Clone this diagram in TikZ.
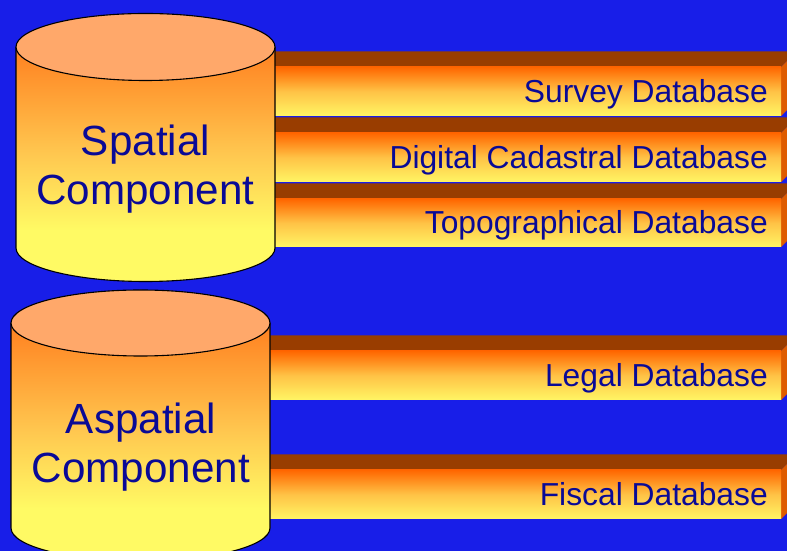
\documentclass[tikz,border=0pt]{standalone}
\usepackage{fontspec}
\setmainfont{Liberation Sans}
\definecolor{bgblue}{RGB}{24,30,232}
\definecolor{txtblue}{RGB}{10,10,150}
\definecolor{cyltopc}{RGB}{255,168,106}
\definecolor{cylO}{RGB}{255,128,32}
\definecolor{cylM}{RGB}{255,200,80}
\definecolor{cylY}{RGB}{255,250,100}
\definecolor{barTopC}{RGB}{153,61,0}
\definecolor{barSideC}{RGB}{222,92,0}
\definecolor{barO}{RGB}{255,102,0}
\definecolor{barM}{RGB}{255,195,70}
\definecolor{barY}{RGB}{255,245,100}
\pgfdeclareverticalshading{cylsh}{100bp}{color(0bp)=(cylY); color(25bp)=(cylY); color(36bp)=(cylY); color(52bp)=(cylM); color(75bp)=(cylO); color(100bp)=(cylO)}
\tikzset{
  cylbody/.style={shading=cylsh},
  cyledge/.style={draw=black, line width=1.1pt},
  cyltop/.style={fill=cyltopc, draw=black, line width=1.1pt},
  bartop/.style={fill=barTopC},
  barside/.style={fill=barSideC},
  barfront/.style={top color=barO, bottom color=barY, middle color=barM},
  dblabel/.style={anchor=base east, inner sep=0pt, text=txtblue, font=\fontsize{31.8}{36}\selectfont},
  cyllabel/.style={anchor=center, inner sep=0pt, align=center, text=txtblue, font=\fontsize{42.2}{49.5}\selectfont}
}
\newcommand{\dbbar}[4]{%
  \fill[bartop] (200,#2) -- (781,#2) -- (797,#2+15.5) -- (216,#2+15.5) -- cycle;
  \fill[barside] (781,#2) -- (797,#2+15.5) -- (797,#3+15.5) -- (781,#3) -- cycle;
  \shade[barfront] (200,#3) rectangle (781,#2);
  \node[dblabel] (#1) at (768,#3+13) {#4};
}
\newcommand{\dbcyl}[5]{%
  \shade[cylbody] (#1-#2,#4) -- (#1-#2,#5) arc[start angle=180, end angle=360, x radius=#2, y radius=#3] -- (#1+#2,#4) -- cycle;
  \draw[cyledge] (#1-#2,#4) -- (#1-#2,#5) arc[start angle=180, end angle=360, x radius=#2, y radius=#3] -- (#1+#2,#4);
  \filldraw[cyltop] (#1,#4) ellipse [x radius=#2, y radius=#3];
}
\begin{document}
\begin{tikzpicture}[x=1pt,y=1pt]
\useasboundingbox (0,0) rectangle (787,551);
\fill[bgblue] (0,0) rectangle (787,551);
\clip (0,0) rectangle (787,551);
% bars, top group
\dbbar{survey}{484}{435}{Survey Database}
\dbbar{cadastral}{418}{369}{Digital Cadastral Database}
\dbbar{topo}{352}{304}{Topographical Database}
% bars, bottom group
\dbbar{legal}{200}{151}{Legal Database}
\dbbar{fiscal}{81}{32}{Fiscal Database}
% cylinders
\dbcyl{145.5}{129.5}{33.5}{504}{303}
\node[cyllabel] (spatial) at (145.5,382) {Spatial\\Component};
\dbcyl{140.5}{129.5}{33}{228}{23}
\node[cyllabel] (aspatial) at (141,104) {Aspatial\\Component};
\end{tikzpicture}
\end{document}
